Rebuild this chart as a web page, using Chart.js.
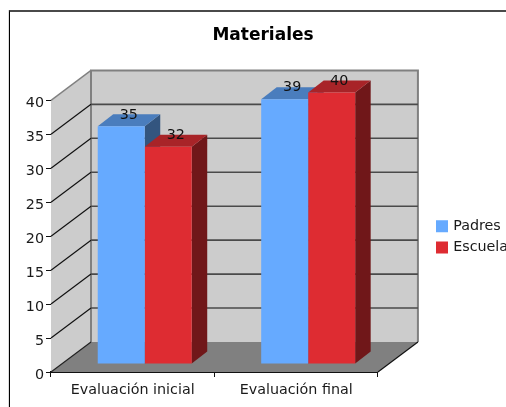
<!DOCTYPE html>
<html>
<head>
<meta charset="utf-8">
<title>Materiales</title>
<script src="https://cdn.jsdelivr.net/npm/chart.js@4"></script>
<style>
    html, body { margin: 0; padding: 0; background: #fff; overflow: hidden; width: 506px; height: 407px; }
    #frame {
        position: absolute; left: 9px; top: 10px; width: 520px; height: 420px;
        border-top: 2px solid #4a4a4a; border-left: 1px solid #000;
        box-shadow: -1px 0 0 #dddddd;
    }
    #wrap { position: absolute; left: 10px; top: 12px; width: 506px; height: 395px; }
</style>
</head>
<body>
<div id="frame"></div>
<div id="wrap"><canvas id="materialesChart" width="506" height="395"></canvas></div>
<script>
const categories = ["Evaluación inicial", "Evaluación final"];
const padres = [35, 39];
const escuela = [32, 40];
const tickStep = 5;
const axisMax = 40;

const font = "'DejaVu Sans', Verdana, sans-serif";
const textColor = "#1a1a1a";
const textSize = 14.3;

// Depth of the fake 3D box and of the bars, in pixels
const wallDepth = { x: 40, y: 30 };
const barOffset = { x: 12, y: 8 };
const barDepth = { x: 15.5, y: 12 };

const faceColors = [
    { top: "#4a7dbd", side: "#33557f" },
    { top: "#a82428", side: "#701719" }
];

function polygon(ctx, points, color) {
    ctx.beginPath();
    points.forEach((p, i) => i ? ctx.lineTo(p[0], p[1]) : ctx.moveTo(p[0], p[1]));
    ctx.closePath();
    ctx.fillStyle = color;
    ctx.fill();
}

const box3d = {
    id: "box3d",
    // Put title and legend where the original has them, the plot area stays as it is
    afterLayout(chart) {
        chart.titleBlock.left = 0;
        chart.titleBlock.right = chart.width;
        chart.legend.left = 421;
        chart.legend.right = chart.width;
        chart.legend.top = 200;
        chart.legend.bottom = chart.height;
    },
    beforeDatasetsDraw(chart) {
        const ctx = chart.ctx;
        const area = chart.chartArea;
        const yScale = chart.scales.y;
        const dx = wallDepth.x, dy = wallDepth.y;

        // walls and floor
        polygon(ctx, [[area.left, area.top], [area.left + dx, area.top - dy], [area.right + dx, area.top - dy],
            [area.right + dx, area.bottom - dy], [area.left, area.bottom]], "#cccccc");
        polygon(ctx, [[area.left, area.bottom], [area.left + dx, area.bottom - dy],
            [area.right + dx, area.bottom - dy], [area.right, area.bottom]], "#808080");

        ctx.save();
        ctx.lineWidth = 2;
        ctx.strokeStyle = "#808080";
        ctx.beginPath();
        ctx.moveTo(area.left + dx, area.bottom - dy);
        ctx.lineTo(area.left + dx, area.top - dy);
        ctx.lineTo(area.right + dx, area.top - dy);
        ctx.lineTo(area.right + dx, area.bottom - dy);
        ctx.stroke();
        ctx.lineWidth = 1.4;
        ctx.beginPath();
        ctx.moveTo(area.left, area.top);
        ctx.lineTo(area.left + dx, area.top - dy);
        ctx.stroke();

        // gridlines: slanted on the side wall, flat on the back wall
        yScale.ticks.forEach(t => {
            const py = yScale.getPixelForValue(t.value);
            if (t.value === axisMax) return;
            ctx.lineWidth = 1.2;
            ctx.strokeStyle = t.value === 0 ? "#222222" : "#111111";
            ctx.beginPath();
            ctx.moveTo(area.left, py);
            ctx.lineTo(area.left + dx, py - dy);
            ctx.stroke();
            if (t.value === 0) return;
            ctx.lineWidth = 1.6;
            ctx.strokeStyle = "#4a4a4a";
            ctx.beginPath();
            ctx.moveTo(area.left + dx, py - dy);
            ctx.lineTo(area.right + dx, py - dy);
            ctx.stroke();
        });
        // floor edge going back on the right
        ctx.lineWidth = 1.2;
        ctx.strokeStyle = "#111111";
        ctx.beginPath();
        ctx.moveTo(area.right, area.bottom);
        ctx.lineTo(area.right + dx, area.bottom - dy);
        ctx.stroke();
        ctx.restore();

        // everything of the bars is moved back a bit from the front plane
        ctx.save();
        ctx.translate(barOffset.x, -barOffset.y);

        // side and top faces, the library draws the front faces after this
        chart.data.datasets.forEach((ds, i) => {
            chart.getDatasetMeta(i).data.forEach(bar => {
                const left = bar.x - bar.width / 2;
                const right = bar.x + bar.width / 2;
                polygon(ctx, [[right, bar.y], [right + barDepth.x, bar.y - barDepth.y],
                    [right + barDepth.x, bar.base - barDepth.y], [right, bar.base]], faceColors[i].side);
                polygon(ctx, [[left, bar.y], [left + barDepth.x, bar.y - barDepth.y],
                    [right + barDepth.x, bar.y - barDepth.y], [right, bar.y]], faceColors[i].top);
            });
        });
    },
    afterDatasetsDraw(chart) {
        const ctx = chart.ctx;
        ctx.font = textSize + "px " + font;
        ctx.fillStyle = "#111111";
        ctx.textAlign = "center";
        ctx.textBaseline = "middle";
        chart.data.datasets.forEach((ds, i) => {
            chart.getDatasetMeta(i).data.forEach((bar, j) => {
                ctx.fillText(ds.data[j], bar.x + 7.5, bar.y - 11.5);
            });
        });
        ctx.restore();
    }
};

new Chart(document.getElementById("materialesChart"), {
    type: "bar",
    data: {
        labels: categories,
        datasets: [
            { label: "Padres", data: padres, backgroundColor: "#66aaff", clip: false },
            { label: "Escuela", data: escuela, backgroundColor: "#de2c32", clip: false }
        ]
    },
    options: {
        responsive: false,
        animation: false,
        layout: { padding: { right: 51, bottom: 0 } },
        datasets: { bar: { categoryPercentage: 0.575, barPercentage: 1 } },
        scales: {
            x: {
                grid: { drawOnChartArea: false, tickLength: 5, tickColor: "#111111" },
                border: { color: "#111111", width: 2 },
                ticks: { color: textColor, font: { family: font, size: textSize }, padding: 5, maxRotation: 0 },
                afterFit(scale) { scale.height = 35; }
            },
            y: {
                min: 0,
                max: axisMax,
                grid: { drawOnChartArea: false, tickLength: 5, tickColor: "#111111" },
                border: { color: "#111111" },
                ticks: { stepSize: tickStep, color: textColor, font: { family: font, size: textSize }, padding: 2, labelOffset: 3 },
                afterFit(scale) { scale.width = 41; }
            }
        },
        plugins: {
            title: {
                display: true,
                text: "Materiales",
                color: "#000000",
                font: { family: font, size: 17, weight: "bold" },
                padding: { top: 13, bottom: 55 }
            },
            legend: {
                position: "right",
                align: "start",
                labels: {
                    color: textColor,
                    font: { family: font, size: textSize },
                    boxWidth: 8,
                    boxHeight: 8,
                    padding: 7,
                    // thick stroke around a small box, keeps the text close to the swatch
                    generateLabels(chart) {
                        return Chart.defaults.plugins.legend.labels.generateLabels(chart).map(item => {
                            item.strokeStyle = item.fillStyle;
                            item.lineWidth = 4;
                            return item;
                        });
                    }
                }
            },
            tooltip: { enabled: false }
        }
    },
    plugins: [box3d]
});
</script>
</body>
</html>
